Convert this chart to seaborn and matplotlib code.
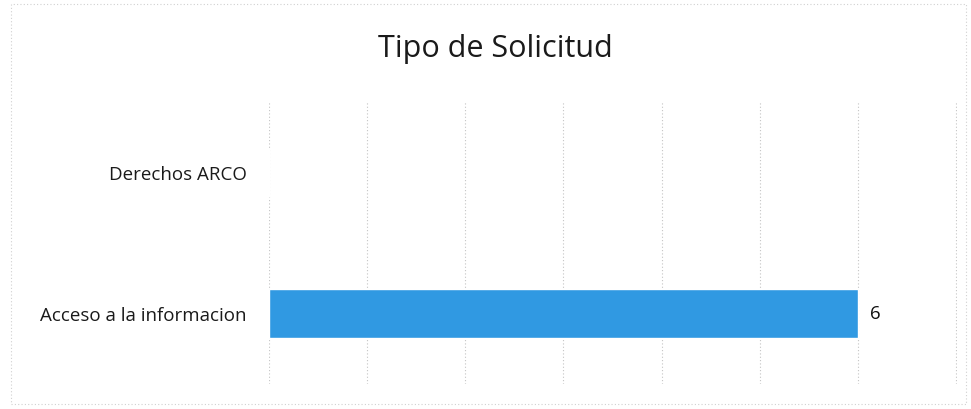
import matplotlib
matplotlib.use("Agg")
import matplotlib.pyplot as plt
import seaborn as sns
import pandas as pd
from matplotlib.patches import Rectangle

categories = ["Derechos ARCO", "Acceso a la informacion"]
values = [0, 6]

df = pd.DataFrame({"tipo": categories, "total": values})

sns.set_style("white")
plt.rcParams["font.family"] = ["Open Sans", "DejaVu Sans"]

fig = plt.figure(figsize=(9.71, 4.1), dpi=100)
ax = fig.add_axes([0.277, 0.061, 0.7087, 0.688])

sns.barplot(data=df, x="total", y="tipo", order=categories, color="#3099e2",
            width=0.35, ax=ax, saturation=1)

ax.set_xlim(0, 7.01)
ax.set_ylim(1.5, -0.5)
ax.set_xticks(range(0, 8))
ax.set_xticklabels([])
ax.grid(axis="x", color="#c4c4c4", linestyle=(0, (1, 2)), linewidth=0.8)
ax.set_axisbelow(True)
for s in ax.spines.values():
    s.set_visible(False)
ax.tick_params(axis="both", length=0)
ax.tick_params(axis="y", labelsize=13.5, pad=16, labelcolor="#1a1a1a")
ax.set_xlabel("")
ax.set_ylabel("")

# value labels (only the non-empty bars)
for i, v in enumerate(values):
    if v > 0:
        ax.text(v + 0.12, i, str(v), va="center", ha="left", fontsize=13.5, color="#111111")

fig.text(0.51, 0.88, "Tipo de Solicitud", ha="center", va="center", fontsize=22, color="#1a1a1a")

# faint chart border
fig.patches.append(Rectangle((0.011, 0.012), 0.984, 0.976, transform=fig.transFigure,
                             fill=False, edgecolor="#d0d0d0", linestyle=(0, (1, 2)), linewidth=0.8))

fig.savefig("out.png", dpi=100)
